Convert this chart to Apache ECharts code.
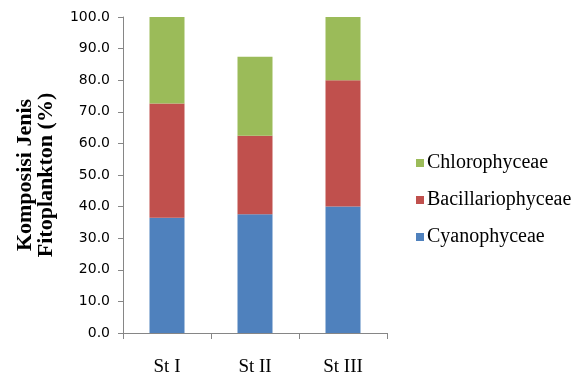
<!DOCTYPE html>
<html><head><meta charset="utf-8">
<script src="https://cdn.jsdelivr.net/npm/echarts@6/dist/echarts.min.js"></script>
<style>html,body{margin:0;padding:0;background:#fff}#c{width:587px;height:376px}</style>
</head><body><div id="c"></div>
<script>
const categories = ['St I', 'St II', 'St III'];
const cyanophyceae = [36.5, 37.6, 40.0];
const bacillariophyceae = [36.1, 24.8, 40.0];
const chlorophyceae = [27.4, 25.0, 20.0];
const legendOrder = ['Chlorophyceae', 'Bacillariophyceae', 'Cyanophyceae'];

const chart = echarts.init(document.getElementById('c'));
const bar = (name, data, color) => ({
  name, type: 'bar', stack: 'total', data, barWidth: 35,
  itemStyle: { color }, emphasis: { disabled: true }
});
chart.setOption({
  animation: false,
  grid: { left: 123, top: 17, right: 200, bottom: 43, outerBoundsMode: 'none' },
  legend: {
    data: legendOrder, orient: 'vertical', left: 411, top: 148,
    itemWidth: 8, itemHeight: 8, itemGap: 17, icon: 'rect',
    textStyle: { fontFamily: 'Liberation Serif', fontSize: 20, color: '#000', lineHeight: 20, padding: [0, 0, 0, -2] }
  },
  xAxis: {
    type: 'category', data: categories,
    axisLine: { lineStyle: { color: '#868686' } },
    axisTick: { show: true, length: 6, lineStyle: { color: '#868686' } },
    axisLabel: { fontFamily: 'Liberation Serif', fontSize: 19, color: '#000', margin: 25 }
  },
  yAxis: {
    type: 'value', min: 0, max: 100, interval: 10,
    name: 'Komposisi Jenis\nFitoplankton (%)', nameLocation: 'middle', nameRotate: 90, nameGap: 66,
    nameTextStyle: { fontFamily: 'Liberation Serif', fontSize: 22, fontWeight: 'bold', color: '#000', lineHeight: 21 },
    axisLine: { show: true, lineStyle: { color: '#868686' } },
    axisTick: { show: true, length: 5, lineStyle: { color: '#868686' } },
    splitLine: { show: false },
    axisLabel: { fontFamily: 'DejaVu Sans', fontSize: 14, color: '#000', margin: 13, formatter: v => v.toFixed(1) }
  },
  series: [
    bar('Cyanophyceae', cyanophyceae, '#4F81BD'),
    bar('Bacillariophyceae', bacillariophyceae, '#C0504D'),
    bar('Chlorophyceae', chlorophyceae, '#9BBB59')
  ]
});
</script></body></html>
